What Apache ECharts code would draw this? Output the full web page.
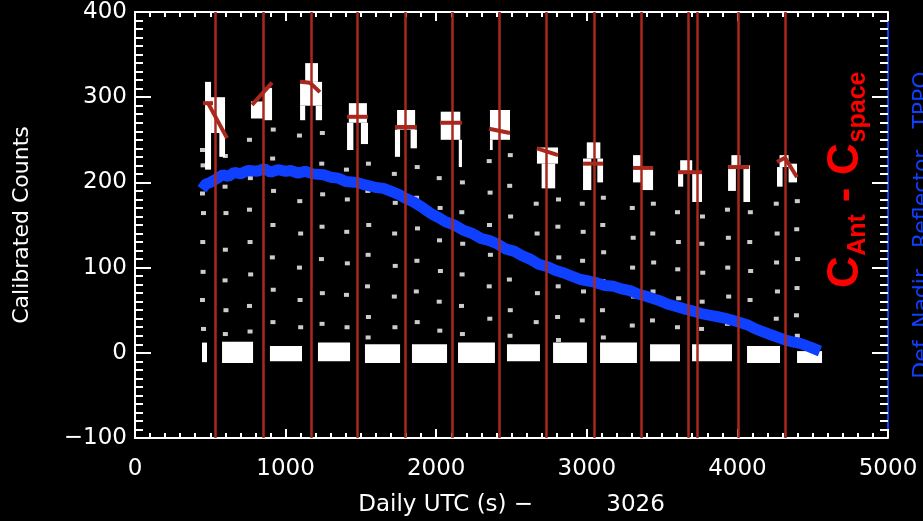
<!DOCTYPE html>
<html><head><meta charset="utf-8">
<script src="https://cdn.jsdelivr.net/npm/echarts@6/dist/echarts.min.js"></script>
<style>html,body{margin:0;padding:0;background:#000;}#c{width:923px;height:521px;}</style>
</head><body><div id="c"></div>
<script>
// ---- data (x: seconds, y: calibrated counts) ----
const xTicks = [0, 1000, 2000, 3000, 4000, 5000];
const yTicks = [-100, 0, 100, 200, 300, 400];
const redLinesX = [531, 850, 1169, 1474, 1793, 2105, 2417, 2729, 3048, 3360, 3672, 3732, 4004, 4316];
// space-look clusters [x0, x1, low, high]
const spaceBlocks = [
  [445, 478, -11, 12], [578, 784, -12, 13], [896, 1109, -10, 8], [1215, 1428, -10, 12],
  [1527, 1760, -12, 10], [1839, 2072, -12, 10], [2145, 2390, -12, 12], [2470, 2689, -10, 10],
  [2776, 3001, -12, 12], [3088, 3333, -12, 12], [3420, 3619, -10, 10], [3699, 3964, -10, 10],
  [4064, 4283, -12, 8], [4396, 4562, -12, 2]
];
// antenna-look peaks [x0, x1, low, high]
const peakBlocks = [
  [465, 505, 215, 318], [505, 598, 258, 300], [560, 598, 230, 260],
  [770, 850, 275, 295], [850, 910, 273, 311],
  [1130, 1215, 318, 340], [1096, 1242, 290, 318], [1096, 1130, 273, 290], [1200, 1242, 273, 290],
  [1420, 1540, 270, 293], [1408, 1450, 238, 270], [1500, 1547, 245, 270],
  [1740, 1860, 262, 285], [1726, 1760, 230, 262], [1830, 1872, 240, 262],
  [2030, 2160, 250, 283], [2150, 2171, 218, 250],
  [2357, 2490, 250, 285], [2357, 2375, 238, 250],
  [2669, 2809, 222, 241], [2700, 2790, 193, 222],
  [3000, 3090, 228, 247], [2975, 3030, 191, 228], [3070, 3108, 200, 228],
  [3307, 3360, 200, 232], [3360, 3440, 191, 218],
  [3620, 3700, 213, 226], [3606, 3640, 195, 213], [3700, 3765, 177, 213],
  [3960, 4020, 220, 232], [3938, 3990, 190, 220], [4040, 4084, 177, 220],
  [4280, 4340, 218, 232], [4263, 4300, 195, 218], [4340, 4396, 200, 222]
];
// transition samples
const whiteDots = [
  [448,238],[452,220],[448,187],[455,164],[450,130],[452,95],[448,62],[455,28],[600,231],[598,195],[604,164],[600,121],[598,85],[604,50],[600,22],
  [760,250],[766,205],[760,168],[764,130],[768,92],[760,55],[764,25],[918,262],[914,228],[920,190],[916,150],[912,112],[918,74],[916,36],
  [1092,255],[1098,215],[1094,178],[1100,140],[1092,100],[1096,62],[1100,30],[1244,258],[1240,222],[1246,186],[1242,148],[1238,110],[1244,70],[1242,34],
  [1404,215],[1410,180],[1406,142],[1410,105],[1404,68],[1408,30],[1550,222],[1546,190],[1552,150],[1548,115],[1544,78],[1550,42],[1548,18],
  [1722,210],[1728,176],[1724,140],[1728,102],[1722,66],[1726,30],[1874,218],[1870,182],[1876,146],[1872,108],[1868,72],[1874,36],
  [2020,205],[2026,170],[2022,132],[2028,96],[2020,60],[2024,26],[2174,200],[2170,165],[2176,128],[2172,92],[2168,55],[2174,22],
  [2352,225],[2358,188],[2354,150],[2360,115],[2352,78],[2356,40],[2492,232],[2488,196],[2494,160],[2490,122],[2486,86],[2492,50],[2490,20],
  [2664,175],[2670,140],[2666,105],[2672,70],[2664,36],[2812,180],[2808,148],[2814,112],[2810,78],[2806,42],[2812,15],
  [2970,175],[2976,142],[2972,108],[2978,72],[2970,38],[3110,182],[3106,150],[3112,118],[3108,84],[3104,50],[3110,18],
  [3302,170],[3308,135],[3304,100],[3310,66],[3302,32],[3442,175],[3438,140],[3444,106],[3440,72],[3436,38],
  [3602,165],[3608,130],[3604,98],[3610,64],[3602,30],[3768,160],[3764,128],[3770,94],[3766,60],[3762,28],
  [3934,168],[3940,135],[3936,100],[3942,66],[3934,34],[4086,165],[4082,130],[4088,96],[4084,62],[4080,30],
  [4258,175],[4264,140],[4260,106],[4266,72],[4258,40],[4398,178],[4394,145],[4400,110],[4396,76],[4392,44],[4398,20]
];
// red fit marks at peaks [x1, y1, x2, y2]
const peakFits = [
  [452,293,518,293],[485,293,611,252],
  [777,291,910,317],
  [1096,318,1162,317],[1162,317,1228,306],
  [1408,277,1547,277],
  [1726,265,1872,265],
  [2025,270,2171,270],
  [2351,263,2490,258],
  [2669,240,2809,232],
  [2975,222,3108,222],
  [3307,217,3440,217],
  [3606,212,3765,212],
  [3938,218,4078,218],
  [4263,224,4316,229],[4316,229,4396,206]
];
// reference (blue) trace
const refTrace = [
  [445,192],[470,198],[500,200],[540,204],[584,209],[620,207],[660,212],[700,210],[750,214],[810,213],
  [860,216],[900,212],[950,215],[1000,213],[1033,214],[1080,211],[1130,213],[1180,210],[1252,209],[1300,206],
  [1350,205],[1400,201],[1474,200],[1530,197],[1600,194],[1650,193],[1693,190],[1750,186],[1800,181],[1850,177],
  [1913,170],[1960,164],[2013,159],[2060,154],[2120,150],[2178,144],[2240,140],[2300,134],[2350,132],[2404,128],
  [2460,122],[2520,119],[2570,114],[2623,110],[2680,104],[2740,101],[2790,97],[2842,94],[2900,90],[2960,86],
  [3020,84],[3068,82],[3120,79],[3180,78],[3230,75],[3287,73],[3340,69],[3400,66],[3450,63],[3486,61],
  [3540,57],[3600,54],[3660,51],[3705,49],[3760,46],[3820,44],[3880,42],[3931,40],[3990,37],[4064,33],
  [4120,28],[4180,24],[4240,20],[4303,16],[4360,13],[4416,11],[4480,7],[4548,2]
];

const RED = '#a8281e', BLUE = '#1040ff', WHITE = '#ffffff';
const FONT = 'DejaVu Sans';

function rectItem(params, api) {
  const p0 = api.coord([api.value(0), api.value(3)]);
  const p1 = api.coord([api.value(1), api.value(2)]);
  return {type: 'rect', shape: {x: p0[0], y: p0[1], width: p1[0] - p0[0], height: p1[1] - p0[1]}, style: {fill: WHITE}};
}
function segItem(params, api) {
  const a = api.coord([api.value(0), api.value(1)]);
  const b = api.coord([api.value(2), api.value(3)]);
  return {type: 'line', shape: {x1: a[0], y1: a[1], x2: b[0], y2: b[1]}, style: {stroke: RED, lineWidth: 4}};
}
function rotText(txt, x, y, size, color, bold) {
  return {type: 'text', x: x, y: y, rotation: Math.PI / 2, z: 10,
    style: {text: txt, fill: color, fontSize: size, fontWeight: bold ? 'bold' : 'normal',
      fontFamily: bold ? 'Liberation Sans' : FONT, align: 'center', verticalAlign: 'middle'}};
}

const chart = echarts.init(document.getElementById('c'));
function xAxisDef(pos, extra) {
  return Object.assign({
    type: 'value', position: pos, min: xTicks[0], max: xTicks[xTicks.length - 1], interval: 1000,
    axisLine: {show: true, onZero: false, lineStyle: {color: WHITE, width: 2}},
    axisTick: {show: true, inside: true, length: 9, lineStyle: {color: WHITE, width: 2}},
    minorTick: {show: true, splitNumber: 10, length: 5, lineStyle: {color: WHITE, width: 2}},
    splitLine: {show: false}, minorSplitLine: {show: false}
  }, extra);
}
function yAxisDef(pos, lineColor, extra) {
  return Object.assign({
    type: 'value', position: pos, min: yTicks[0], max: yTicks[yTicks.length - 1], interval: 100,
    axisLine: {show: true, onZero: false, lineStyle: {color: lineColor, width: 2}},
    axisTick: {show: true, inside: true, length: 16, lineStyle: {color: WHITE, width: 2}},
    minorTick: {show: true, splitNumber: 10, length: 8, lineStyle: {color: WHITE, width: 2}},
    splitLine: {show: false}, minorSplitLine: {show: false}
  }, extra);
}
chart.setOption({
  backgroundColor: '#000',
  animation: false,
  grid: {left: 135, right: 35, top: 12, bottom: 83, containLabel: false, outerBoundsMode: 'none'},
  xAxis: [
    xAxisDef('bottom', {
      axisLabel: {color: WHITE, fontSize: 23, fontFamily: FONT, margin: 20, formatter: v => String(v)},
      name: 'Daily UTC (s) \u2212          3026', nameLocation: 'middle', nameGap: 56,
      nameTextStyle: {color: WHITE, fontSize: 23, fontFamily: FONT}
    }),
    xAxisDef('top', {axisLabel: {show: false}})
  ],
  yAxis: [
    yAxisDef('left', WHITE, {
      axisLabel: {color: WHITE, fontSize: 23, fontFamily: FONT, margin: 8,
        formatter: v => (v < 0 ? '\u2212' + Math.abs(v) : String(v))},
      name: 'Calibrated Counts', nameLocation: 'middle', nameGap: 102,
      nameTextStyle: {color: WHITE, fontSize: 22, fontFamily: FONT}
    }),
    yAxisDef('right', BLUE, {axisLabel: {show: false}})
  ],
  series: [
    {type: 'custom', coordinateSystem: 'cartesian2d', renderItem: rectItem, data: spaceBlocks,
     encode: {x: [0, 1], y: [2, 3]}, z: 2, silent: true},
    {type: 'custom', coordinateSystem: 'cartesian2d', renderItem: rectItem, data: peakBlocks,
     encode: {x: [0, 1], y: [2, 3]}, z: 2, silent: true},
    {type: 'scatter', data: whiteDots, symbol: 'rect', symbolSize: [5, 4],
     itemStyle: {color: WHITE}, z: 2, silent: true},
    {type: 'line', data: refTrace, showSymbol: false, symbol: 'none',
     lineStyle: {color: BLUE, width: 11}, z: 3, silent: true},
    {type: 'line', data: [], z: 4, silent: true,
     markLine: {silent: true, symbol: ['none', 'none'], label: {show: false},
       lineStyle: {color: RED, width: 2.5, type: 'solid'},
       data: redLinesX.map(x => ({xAxis: x}))}},
    {type: 'custom', coordinateSystem: 'cartesian2d', renderItem: segItem, data: peakFits,
     encode: {x: [0, 2], y: [1, 3]}, z: 5, silent: true}
  ],
  graphic: [
    rotText('C', 846, 272, 44, '#ff0000', true),
    rotText('Ant', 858, 235, 25, '#ff0000', true),
    rotText('-', 846, 195, 44, '#ff0000', true),
    rotText('C', 846, 159, 44, '#ff0000', true),
    rotText('space', 858, 107, 25, '#ff0000', true),
    rotText('Def. Nadir   Reflector   TPPO', 922, 225, 22, BLUE, false)
  ]
});
</script></body></html>
